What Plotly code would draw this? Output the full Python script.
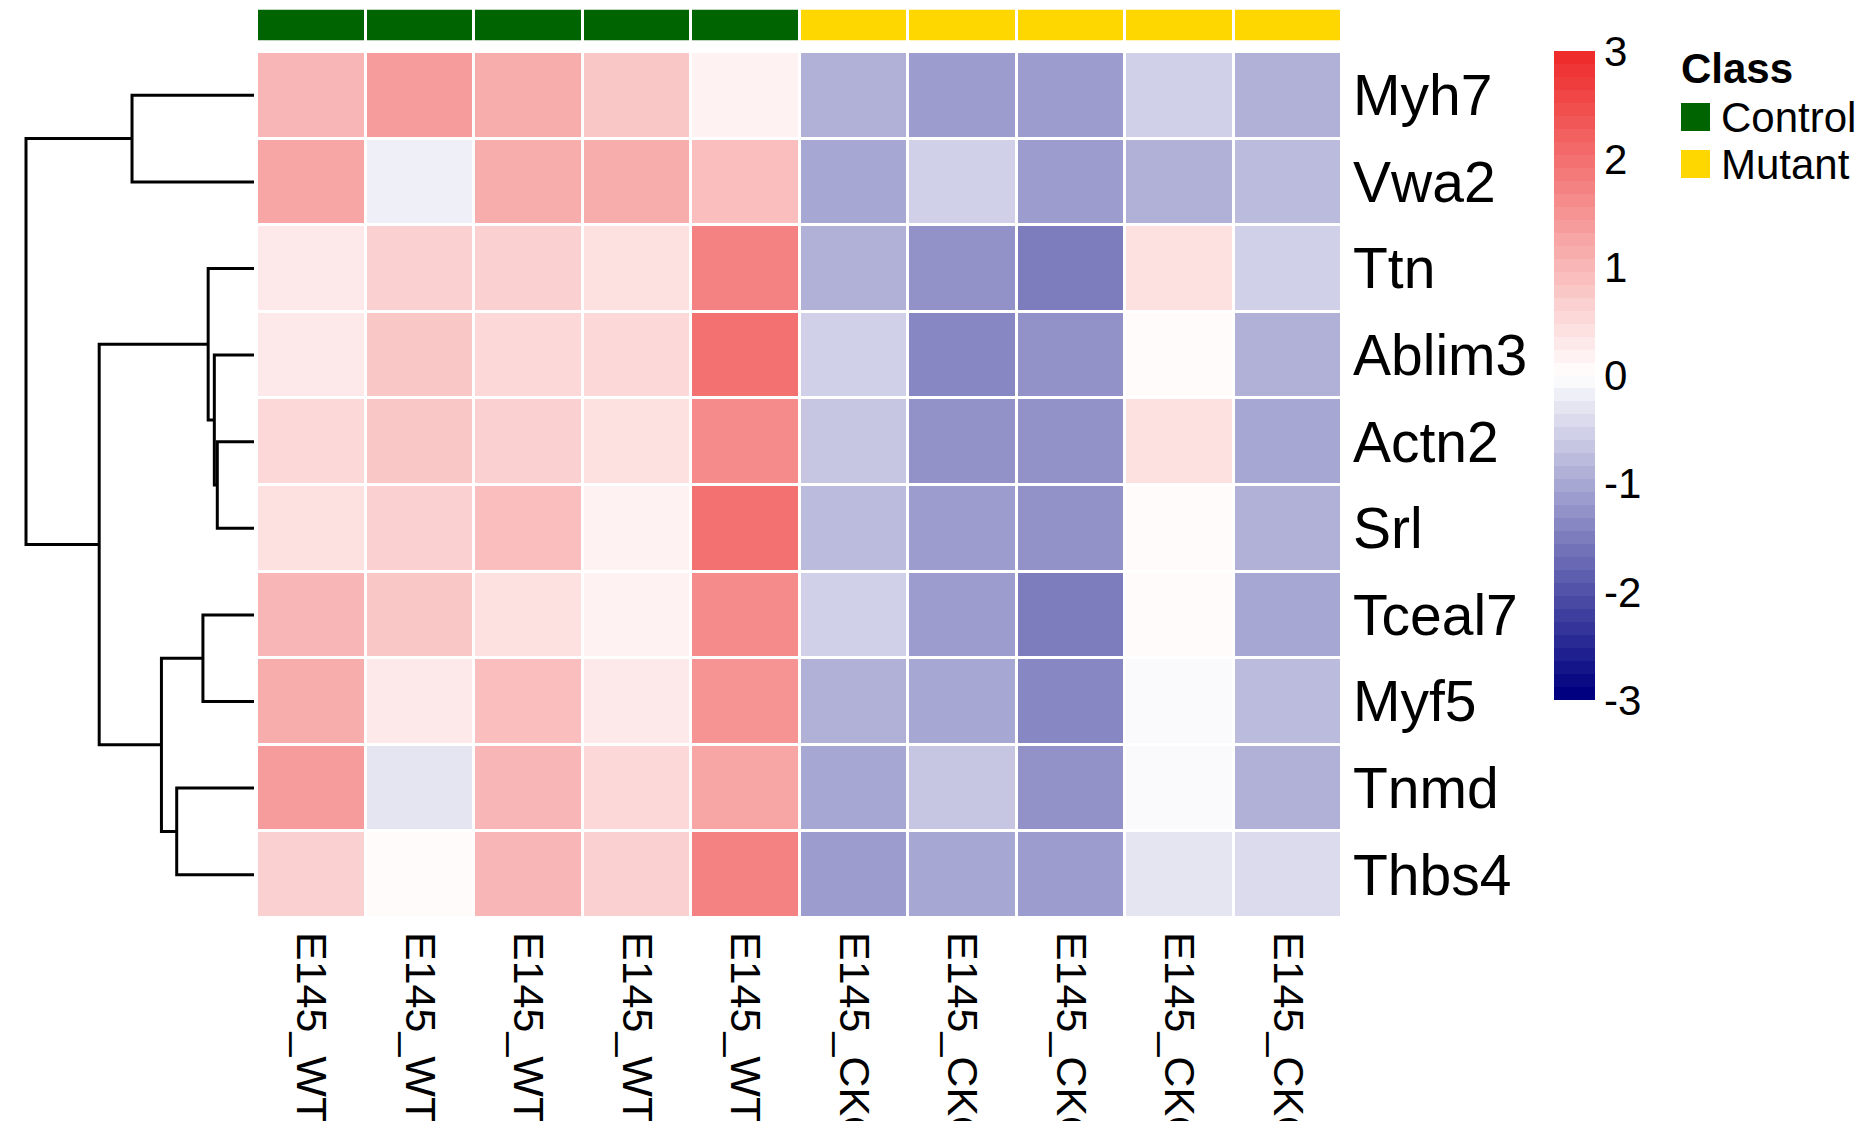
import plotly.graph_objects as go

# ---------------- data ----------------
genes = ["Myh7", "Vwa2", "Ttn", "Ablim3", "Actn2", "Srl", "Tceal7", "Myf5", "Tnmd", "Thbs4"]
samples = ["E145_WT1", "E145_WT2", "E145_WT3", "E145_WT4", "E145_WT5",
           "E145_CKO1", "E145_CKO2", "E145_CKO3", "E145_CKO4", "E145_CKO5"]
sample_class = ["Control"] * 5 + ["Mutant"] * 5

myh7 = [1.04, 1.42, 1.18, 0.81, 0.24, -0.91, -1.15, -1.15, -0.56, -0.93]
vwa2 = [1.24, -0.22, 1.18, 1.18, 0.92, -1.07, -0.56, -1.15, -0.93, -0.81]
ttn = [0.36, 0.71, 0.71, 0.47, 1.78, -0.93, -1.29, -1.55, 0.47, -0.56]
ablim3 = [0.33, 0.81, 0.57, 0.57, 1.92, -0.56, -1.39, -1.28, 0.07, -0.93]
actn2 = [0.57, 0.81, 0.71, 0.47, 1.66, -0.69, -1.28, -1.28, 0.47, -1.07]
srl = [0.47, 0.71, 0.84, 0.24, 1.92, -0.81, -1.15, -1.28, 0.07, -0.93]
tceal7 = [1.04, 0.81, 0.47, 0.24, 1.66, -0.56, -1.15, -1.55, 0.07, -1.07]
myf5 = [1.18, 0.36, 0.92, 0.36, 1.52, -0.93, -1.07, -1.39, -0.08, -0.81]
tnmd = [1.38, -0.34, 1.04, 0.57, 1.28, -1.07, -0.69, -1.28, -0.08, -0.93]
thbs4 = [0.71, 0.07, 1.04, 0.71, 1.78, -1.18, -1.07, -1.15, -0.34, -0.44]

# row dendrogram merges, hclust convention:
# negative = leaf (1-based row), positive = earlier merge (1-based)
merge_left = [-5, -4, -3, -7, -9, 4, -1, 3, 7]
merge_right = [-6, 1, 2, -8, -10, 5, -2, 6, 8]
merge_height = [1.61, 1.74, 2.01, 2.24, 3.39, 4.06, 5.35, 6.79, 10.0]

color_ticks = [3, 2, 1, 0, -1, -2, -3]
class_names = ["Control", "Mutant"]
class_colors = ["#006400", "#FFD700"]

# ---------------- layout constants (page pixels) ----------------
OFF = 8                     # default body margin of the html page
W, H = 1866 - OFF, 1121 - OFF
hm_x0, hm_x1 = 257, 1342
hm_y0, hm_y1 = 52, 918
ann_y0, ann_y1 = 9.5, 40.5
dend_x0, dend_x1 = 26, 254
FONT = "Liberation Sans, Arial, sans-serif"


def px(x):
    return (x - OFF) / W


def py(y):
    return 1 - (y - OFF) / H


z = [myh7, vwa2, ttn, ablim3, actn2, srl, tceal7, myf5, tnmd, thbs4]
rows = list(range(len(genes)))
cols = list(range(len(samples)))

# stepped navy-white-firebrick2 palette (50 colours over -3..3)
n_col = 50
navy, white, red = (0, 0, 128), (255, 255, 255), (238, 44, 44)
pal = []
for i in range(n_col):
    t = i / (n_col - 1)
    if t <= 0.5:
        a, b, u = navy, white, t / 0.5
    else:
        a, b, u = white, red, (t - 0.5) / 0.5
    c = tuple(round(a[k] + (b[k] - a[k]) * u) for k in range(3))
    pal.append("rgb(%d,%d,%d)" % c)
cscale = []
for i, c in enumerate(pal):
    cscale.append([i / n_col, c])
    cscale.append([(i + 1) / n_col, c])

fig = go.Figure()

fig.add_trace(go.Heatmap(
    z=z, x=cols, y=rows, zmin=-3, zmax=3, colorscale=cscale,
    xgap=3, ygap=3, hoverinfo="z",
    colorbar=dict(
        x=px(1554), xanchor="left", xpad=0, ypad=0,
        y=py(51), yanchor="top", len=649, lenmode="pixels",
        thickness=41, thicknessmode="pixels", outlinewidth=0,
        tickvals=color_ticks, ticktext=[str(v) for v in color_ticks],
        ticks="", tickfont=dict(family=FONT, size=42, color="black"),
    ),
    xaxis="x", yaxis="y",
))

# annotation bar
class_idx = [class_names.index(c) for c in sample_class]
fig.add_trace(go.Heatmap(
    z=[class_idx], x=cols, y=[0], zmin=0, zmax=1,
    colorscale=[[0, class_colors[0]], [0.5, class_colors[0]],
                [0.5, class_colors[1]], [1, class_colors[1]]],
    showscale=False, xgap=3, hoverinfo="skip",
    xaxis="x", yaxis="y3",
))

# dendrogram (positions computed from the merge table)
node_pos, node_h = {}, {}
for i in range(len(genes)):
    node_pos[-(i + 1)] = float(i)
    node_h[-(i + 1)] = 0.0
dx, dy = [], []
for m in range(len(merge_height)):
    lk, rk, h = merge_left[m], merge_right[m], merge_height[m]
    yl, yr = node_pos[lk], node_pos[rk]
    dx += [node_h[lk], h, h, node_h[rk], None]
    dy += [yl, yl, yr, yr, None]
    node_pos[m + 1] = (yl + yr) / 2
    node_h[m + 1] = h

fig.add_trace(go.Scatter(
    x=dx, y=dy, mode="lines", line=dict(color="black", width=3),
    hoverinfo="skip", showlegend=False, xaxis="x2", yaxis="y",
))

# legend (Class)
fig.add_annotation(x=px(1679), y=py(69), xref="paper", yref="paper",
                   text="<b>Class</b>", showarrow=False, xanchor="left",
                   yanchor="middle", font=dict(family=FONT, size=42, color="black"))
leg_y = [117, 164]
for name, col, yc in zip(class_names, class_colors, leg_y):
    fig.add_shape(type="rect", xref="paper", yref="paper",
                  x0=px(1681), x1=px(1710), y0=py(yc - 14), y1=py(yc + 14),
                  fillcolor=col, line=dict(width=0))
    fig.add_annotation(x=px(1719), y=py(yc), xref="paper", yref="paper",
                       text=name, showarrow=False, xanchor="left", yanchor="middle",
                       font=dict(family=FONT, size=42, color="black"))

pad = 0.3
dend_left = dend_x0 - pad * (dend_x1 - dend_x0) / merge_height[-1]

fig.update_layout(
    width=W, height=H, margin=dict(l=0, r=0, t=0, b=0),
    paper_bgcolor="white", plot_bgcolor="white", showlegend=False,
    font=dict(family=FONT, color="black"),
    xaxis=dict(domain=[px(hm_x0), px(hm_x1)], range=[-0.5, 9.5],
               tickvals=cols, ticktext=samples, tickangle=90, side="bottom",
               showgrid=False, zeroline=False, showline=False, ticks="",
               tickfont=dict(family=FONT, size=43, color="black"),
               ticklabelstandoff=13, automargin=False, anchor="y"),
    yaxis=dict(domain=[py(hm_y1), py(hm_y0)], range=[9.5, -0.5],
               tickvals=rows, ticktext=genes, side="right", anchor="x",
               showgrid=False, zeroline=False, showline=False, ticks="",
               tickfont=dict(family=FONT, size=57, color="black"),
               ticklabelstandoff=10, automargin=False),
    xaxis2=dict(domain=[px(dend_left), px(dend_x1)],
                range=[merge_height[-1] + pad, 0], visible=False, anchor="y"),
    yaxis3=dict(domain=[py(ann_y1), py(ann_y0)], range=[-0.5, 0.5],
                visible=False, anchor="x"),
)

fig.write_html("out.html")
